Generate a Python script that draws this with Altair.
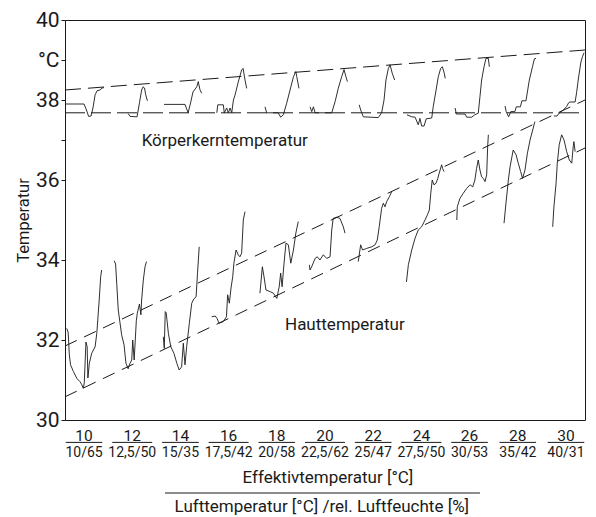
import altair as alt
import pandas as pd

FONT = "Roboto"
INK = "#1a1a1a"

# ---- x positions are effective temperature units (°C), y in °C ----
eff_ticks = [10, 12, 14, 16, 18, 20, 22, 24, 26, 28, 30]
air_labels = ["10/65", "12,5/50", "15/35", "17,5/42", "20/58", "22,5/62",
              "25/47", "27,5/50", "30/53", "35/42", "40/31"]

core_x = [
    [9.23, 10.00, 10.10, 10.19, 10.29, 10.37, 10.46, 10.54, 10.66, 10.75, 10.83],
    [11.83, 11.91, 12.20, 12.30, 12.39, 12.45, 12.51, 12.56, 12.63],
    [13.32, 14.19, 14.32, 14.43, 14.52, 14.68, 14.74, 14.81, 14.88],
    [15.51, 15.55, 15.78, 15.82, 15.92, 15.99, 16.06, 16.13, 16.20, 16.27, 16.40, 16.54, 16.60, 16.68, 16.75],
    [17.51, 17.58, 18.06, 18.16, 18.27, 18.41, 18.55, 18.69, 18.79, 18.83, 18.92],
    [19.38, 19.45, 19.52, 19.59, 20.28, 20.42, 20.55, 20.69, 20.79, 20.87, 20.93],
    [21.42, 21.48, 21.59, 22.21, 22.35, 22.45, 22.53, 22.63, 22.70, 22.79, 22.89],
    [23.40, 23.60, 23.74, 23.87, 23.94, 24.01, 24.11, 24.20, 24.43, 24.49, 24.61, 24.70, 24.80, 24.87, 24.95, 24.99],
    [25.40, 25.45, 25.81, 25.88, 26.09, 26.21, 26.36, 26.43, 26.50, 26.60, 26.68, 26.78, 26.82],
    [27.47, 27.52, 27.62, 27.71, 27.88, 27.94, 28.11, 28.17, 28.34, 28.48, 28.61, 28.69, 28.76],
    [29.50, 29.63, 29.73, 29.89, 30.03, 30.11, 30.17, 30.38, 30.44, 30.52, 30.62, 30.69, 30.75],
]
core_y = [
    [37.90, 37.90, 37.75, 37.59, 37.60, 37.80, 38.13, 38.23, 38.25, 38.30, 38.31],
    [37.66, 37.59, 37.58, 37.93, 38.25, 38.33, 38.30, 38.13, 37.98],
    [37.89, 37.89, 37.68, 37.95, 38.20, 38.33, 38.46, 38.26, 38.17],
    [37.68, 37.88, 37.88, 37.68, 37.80, 37.68, 37.80, 37.68, 38.00, 38.13, 38.45, 38.75, 38.79, 38.50, 38.29],
    [37.83, 37.68, 37.68, 37.57, 37.63, 37.92, 38.25, 38.58, 38.71, 38.58, 38.29],
    [37.83, 37.71, 37.83, 37.68, 37.68, 37.96, 38.29, 38.58, 38.76, 38.58, 38.46],
    [37.88, 37.75, 37.58, 37.56, 37.68, 38.00, 38.50, 38.79, 38.88, 38.67, 38.50],
    [37.63, 37.58, 37.57, 37.38, 37.54, 37.35, 37.35, 37.53, 37.55, 37.83, 38.25, 38.58, 38.79, 38.83, 38.67, 38.54],
    [37.80, 37.65, 37.65, 37.57, 37.57, 37.63, 37.67, 38.08, 38.50, 38.83, 39.04, 39.04, 38.83],
    [37.85, 37.71, 37.58, 37.71, 37.71, 37.83, 37.83, 37.98, 37.98, 38.50, 38.83, 39.03, 39.04],
    [37.60, 37.60, 37.68, 37.75, 37.84, 37.93, 37.95, 37.95, 38.18, 38.55, 38.95, 39.09, 39.18],
]

skin_x = [
    [9.28, 9.34, 9.39, 9.44, 9.56, 9.70, 9.83, 9.91, 9.97, 10.01, 10.08, 10.13, 10.16, 10.22, 10.32, 10.46, 10.53, 10.57, 10.63, 10.69, 10.73],
    [11.25, 11.31, 11.36, 11.42, 11.56, 11.66, 11.74, 11.83, 11.91, 11.98, 12.02, 12.08, 12.17, 12.21, 12.30, 12.36, 12.39, 12.46, 12.53, 12.59],
    [13.29, 13.33, 13.37, 13.41, 13.50, 13.60, 13.73, 13.85, 13.95, 14.05, 14.12, 14.19, 14.26, 14.37, 14.47, 14.56, 14.65, 14.71, 14.78],
    [15.30, 15.44, 15.52, 15.60, 15.78, 15.91, 15.96, 16.03, 16.10, 16.17, 16.22, 16.31, 16.40, 16.47, 16.54, 16.61, 16.68],
    [17.30, 17.40, 17.47, 17.55, 17.72, 17.86, 18.00, 18.10, 18.16, 18.22, 18.30, 18.38, 18.48, 18.58, 18.69, 18.79, 18.89],
    [19.35, 19.38, 19.46, 19.59, 19.68, 19.79, 19.93, 20.07, 20.21, 20.28, 20.34, 20.48, 20.62, 20.76, 20.83],
    [21.38, 21.48, 21.56, 21.73, 21.94, 22.08, 22.17, 22.25, 22.35, 22.42, 22.49, 22.56, 22.67, 22.77],
    [23.38, 23.46, 23.60, 23.74, 23.87, 24.01, 24.15, 24.25, 24.33, 24.39, 24.45, 24.52, 24.61, 24.68, 24.74, 24.84, 24.88, 24.94],
    [25.47, 25.49, 25.60, 25.74, 25.88, 26.02, 26.13, 26.22, 26.29, 26.36, 26.43, 26.50, 26.57, 26.64, 26.71, 26.75, 26.78],
    [27.43, 27.51, 27.61, 27.68, 27.81, 27.93, 28.02, 28.12, 28.20, 28.30, 28.40, 28.51, 28.62, 28.71],
    [29.45, 29.50, 29.59, 29.64, 29.72, 29.82, 29.92, 30.03, 30.14, 30.24, 30.30, 30.33, 30.38],
]
skin_y = [
    [32.29, 32.20, 31.63, 31.38, 31.21, 31.04, 30.96, 30.88, 30.79, 30.93, 31.95, 31.83, 31.05, 31.42, 31.67, 31.83, 32.17, 32.50, 33.00, 33.58, 33.75],
    [33.98, 33.90, 33.38, 32.75, 32.13, 31.88, 31.42, 31.28, 31.42, 31.50, 32.00, 31.50, 32.48, 32.67, 32.90, 32.63, 33.00, 33.50, 33.83, 33.96],
    [32.08, 31.79, 32.71, 32.68, 32.17, 31.83, 31.67, 31.42, 31.25, 31.33, 31.92, 31.38, 31.83, 32.42, 32.92, 33.03, 33.08, 33.67, 34.33],
    [32.58, 32.60, 32.54, 32.42, 32.46, 32.58, 33.13, 32.92, 33.30, 33.58, 33.92, 34.25, 34.13, 34.08, 34.17, 35.00, 35.21],
    [33.17, 33.83, 33.58, 33.25, 33.21, 33.17, 33.04, 33.33, 33.67, 33.33, 33.92, 34.42, 34.38, 33.92, 34.25, 34.67, 34.96],
    [33.88, 33.75, 33.85, 34.04, 34.08, 34.00, 34.13, 34.04, 34.08, 34.75, 35.04, 35.07, 35.04, 34.83, 34.67],
    [33.96, 34.38, 34.25, 34.29, 34.33, 34.38, 34.50, 34.83, 35.29, 35.42, 35.33, 35.46, 35.58, 35.71],
    [33.45, 33.88, 34.25, 34.55, 34.75, 34.83, 35.00, 35.13, 35.25, 35.67, 36.00, 35.88, 35.92, 36.04, 36.17, 36.38, 36.29, 36.21],
    [35.00, 35.33, 35.54, 35.67, 35.79, 35.88, 35.83, 36.00, 36.29, 36.50, 36.25, 36.08, 36.04, 35.96, 36.13, 36.83, 37.13],
    [34.92, 35.42, 36.00, 36.33, 36.75, 36.63, 36.42, 36.21, 36.04, 36.25, 36.67, 37.00, 37.25, 37.46],
    [34.83, 35.33, 35.92, 36.42, 36.88, 37.13, 37.00, 36.71, 36.50, 36.42, 36.83, 36.96, 36.71],
]

env_names = ["core_upper", "core_lower", "skin_upper", "skin_lower"]
env_x0 = [9.21, 9.21, 9.21, 9.21]
env_x1 = [30.79, 30.79, 30.79, 30.79]
env_y0 = [38.25, 37.68, 31.85, 30.58]
env_y1 = [39.25, 37.68, 38.00, 36.80]

XDOM = [9.21, 30.79]

rows = []
for kind, xs_, ys_ in (("core", core_x, core_y), ("skin", skin_x, skin_y)):
    for i, (sx, sy) in enumerate(zip(xs_, ys_)):
        for j, (a, b) in enumerate(zip(sx, sy)):
            rows.append({"seg": f"{kind}{i}", "x": a, "y": b, "o": j})
traces = pd.DataFrame(rows)

env_rows = []
for n, a0, b0, a1, b1 in zip(env_names, env_x0, env_y0, env_x1, env_y1):
    env_rows.append({"line": n, "x": a0, "y": b0, "o": 0})
    env_rows.append({"line": n, "x": a1, "y": b1, "o": 1})
env = pd.DataFrame(env_rows)

xs = alt.Scale(domain=XDOM, nice=False, zero=False)
ys = alt.Scale(domain=[30, 40], nice=False, zero=False)

yaxis = alt.Axis(
    values=[30, 32, 34, 36, 37, 38, 39, 40],
    labelExpr="datum.value == 39 ? '°C' : (datum.value == 37 ? '' : datum.label)",
    tickSize=4, tickColor=INK, domainColor=INK, labelColor=INK,
    labelFont=FONT, labelFontSize=21, labelPadding=2,
    grid=False, title="Temperatur", titleFont=FONT, titleFontSize=16.5,
    titleFontWeight="normal", titleColor=INK, titlePadding=4,
)


def X(field):
    return alt.X(field, scale=xs, axis=None)


def Y(field):
    return alt.Y(field, scale=ys, axis=yaxis)


trace_layer = alt.Chart(traces).mark_line(color=INK, strokeWidth=1.0, opacity=0.9).encode(
    x=X("x:Q"), y=Y("y:Q"), detail="seg:N", order="o:Q",
)

env_layer = alt.Chart(env).mark_line(color=INK, strokeWidth=1.0).encode(
    x=X("x:Q"), y=Y("y:Q"),
    strokeDash=alt.StrokeDash("line:N", legend=None, scale=alt.Scale(
        domain=env_names, range=[[16, 7], [20, 6], [13, 8], [13, 8]])),
    order="o:Q",
)

labels = pd.DataFrame({"x": [12.39, 18.34], "y": [36.85, 32.25],
                       "t": ["Körperkerntemperatur", "Hauttemperatur"]})
label_layer = alt.Chart(labels).mark_text(
    align="left", baseline="alphabetic", font=FONT, fontSize=17, color=INK
).encode(x=X("x:Q"), y=Y("y:Q"), text="t:N")

# x-axis labels (below the plot, y in data units below 30)
ticks = pd.DataFrame({"eff": eff_ticks, "top": [str(v) for v in eff_ticks], "bot": air_labels})
ticks["half"] = 0.76 + (ticks["bot"].str.len() - 5) * 0.035
ticks["x1"] = ticks["eff"] - ticks["half"]
ticks["x2"] = ticks["eff"] + ticks["half"]
ticks["ytop"] = 29.475
ticks["ybar"] = 29.44
ticks["ybot"] = 29.065

top_layer = alt.Chart(ticks).mark_text(baseline="alphabetic", font=FONT, fontSize=15.5, color=INK).encode(
    x=X("eff:Q"), y=Y("ytop:Q"), text="top:N")
bar_layer = alt.Chart(ticks).mark_rule(color=INK, strokeWidth=1).encode(
    x=X("x1:Q"), x2="x2:Q", y=Y("ybar:Q"))
bot_layer = alt.Chart(ticks).mark_text(baseline="alphabetic", font=FONT, fontSize=14, color=INK).encode(
    x=X("eff:Q"), y=Y("ybot:Q"), text="bot:N")

titles = pd.DataFrame({
    "x": [20.12, 19.87], "y": [28.425, 27.70],
    "t": ["Effektivtemperatur [°C]", "Lufttemperatur [°C] /rel. Luftfeuchte [%]"],
})
title_layer = alt.Chart(titles).mark_text(baseline="alphabetic", font=FONT, fontSize=17, color=INK).encode(
    x=X("x:Q"), y=Y("y:Q"), text="t:N")
longbar = pd.DataFrame({"x1": [13.36], "x2": [26.43], "y": [28.175]})
longbar_layer = alt.Chart(longbar).mark_rule(color=INK, strokeWidth=1).encode(
    x=X("x1:Q"), x2="x2:Q", y=Y("y:Q"))

chart = alt.layer(
    trace_layer, env_layer, label_layer, top_layer, bar_layer, bot_layer, title_layer, longbar_layer
).properties(
    width=520, height=400,
    autosize=alt.AutoSizeParams(type="none"),
    padding={"left": 57, "top": 12, "right": 3, "bottom": 95},
    background="white",
).configure_view(stroke=INK, strokeWidth=1)

chart.save("out.html", embed_options={"renderer": "svg", "actions": False})
